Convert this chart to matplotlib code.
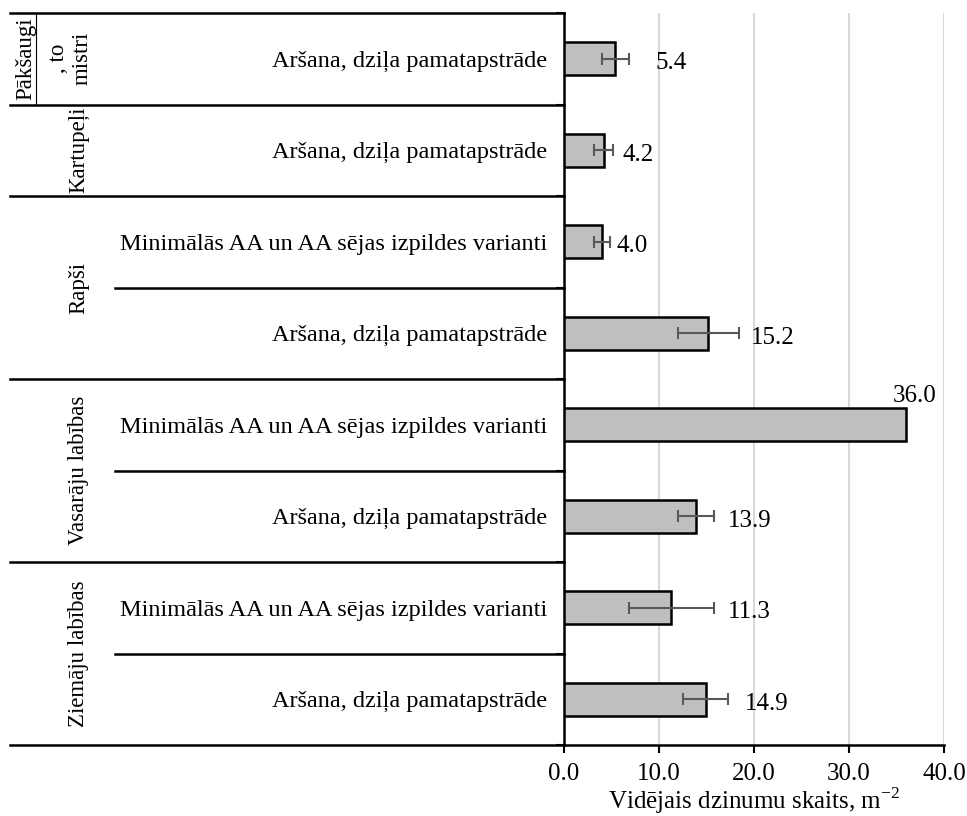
import numpy as np
import matplotlib.pyplot as plt

plt.rcParams['font.family'] = ['Liberation Serif', 'DejaVu Serif']
plt.rcParams['mathtext.fontset'] = 'custom'
plt.rcParams['mathtext.rm'] = 'Liberation Serif'

# ----- data (top to bottom) -----
groups = [["Pākšaugi", ", to", "mistri"], ["Kartupeļi"], ["Rapši"],
          ["Vasarāju labības"], ["Ziemāju labības"]]
group_sizes = [1, 1, 2, 2, 2]
treatments = [
    "Aršana, dziļa pamatapstrāde",
    "Aršana, dziļa pamatapstrāde",
    "Minimālās AA un AA sējas izpildes varianti",
    "Aršana, dziļa pamatapstrāde",
    "Minimālās AA un AA sējas izpildes varianti",
    "Aršana, dziļa pamatapstrāde",
    "Minimālās AA un AA sējas izpildes varianti",
    "Aršana, dziļa pamatapstrāde",
]
values = [5.4, 4.2, 4.0, 15.2, 36.0, 13.9, 11.3, 14.9]
errors = [1.4, 1.0, 0.8, 3.2, 0.0, 1.9, 4.5, 2.4]
xticks = [0, 10, 20, 30, 40]

# label offsets (pixels right of the error bar end)
label_pad = [27, 9, 7, 12, 0, 14, 14, 17]

fig = plt.figure(figsize=(9.67, 8.16), dpi=100)
ax = fig.add_axes([564 / 967, 1 - 745 / 816, 380 / 967, 732 / 816])

n = len(values)
y = np.arange(n)
ax.barh(y, values, height=0.36, color="#BFBFBF", edgecolor="black", linewidth=1.8, zorder=3)
has_err = np.array(errors) > 0
ax.errorbar(np.array(values)[has_err], y[has_err], xerr=np.array(errors)[has_err],
            fmt="none", ecolor="#595959", elinewidth=1.5, capsize=4, capthick=1.5, zorder=4)

ax.set_xlim(0, 40)
ax.set_ylim(n - 0.5, -0.5)
ax.set_xticks(xticks)
ax.set_xticklabels([f"{t:.1f}" for t in xticks], fontsize=18)
ax.xaxis.grid(True, color="#D9D9D9", linewidth=1.5, zorder=0)
ax.set_axisbelow(True)
ax.tick_params(axis="x", length=6, width=1.5, pad=7)

ax.set_yticks(y)
ax.set_yticklabels(treatments, fontsize=17.5)
ax.tick_params(axis="y", which="major", length=0, pad=12)
ax.set_yticks(np.arange(n + 1) - 0.5, minor=True)
ax.tick_params(axis="y", which="minor", length=6, width=1.5)

for s in ["top", "right"]:
    ax.spines[s].set_visible(False)
for s in ["left", "bottom"]:
    ax.spines[s].set_linewidth(1.8)

ax.set_xlabel("Vidējais dzinumu skaits, m$^{\\mathrm{-2}}$", fontsize=18, labelpad=0)

# value labels
px = 40 / 380
for i, (v, e) in enumerate(zip(values, errors)):
    if e > 0:
        ax.text(v + e + label_pad[i] * px, i + 0.05, f"{v:.1f}", ha="left", va="center", fontsize=18)
    else:
        ax.text(v + 0.9, i - 0.19, f"{v:.1f}", ha="center", va="bottom", fontsize=18)

# group separators and labels on the left
tr = ax.get_yaxis_transform()
x_left = (10 - 564) / 380
x_inner = (115 - 564) / 380
to_ax = lambda xpix: (xpix - 564) / 380
start = 0
ax.plot([x_left, 0], [-0.5, -0.5], transform=tr, color="black", lw=1.8, clip_on=False)
for gi, (lines, size) in enumerate(zip(groups, group_sizes)):
    end = start + size
    ax.plot([x_left, 0], [end - 0.5, end - 0.5], transform=tr, color="black", lw=1.8, clip_on=False)
    for k in range(start + 1, end):
        ax.plot([x_inner, 0], [k - 0.5, k - 0.5], transform=tr, color="black", lw=1.8, clip_on=False)
    center = (start + end - 1) / 2
    xs = [26, 59, 82] if len(lines) == 3 else [79]
    for xp, t in zip(xs, lines):
        ax.text(to_ax(xp), center, t, transform=tr, rotation=90, ha="center", va="center",
                fontsize=16.5)
    start = end

# thin divider next to the first group label
ax.plot([to_ax(36)] * 2, [-0.5, 0.5], transform=tr, color="black", lw=0.8, clip_on=False)

fig.savefig("out.png", dpi=100)
